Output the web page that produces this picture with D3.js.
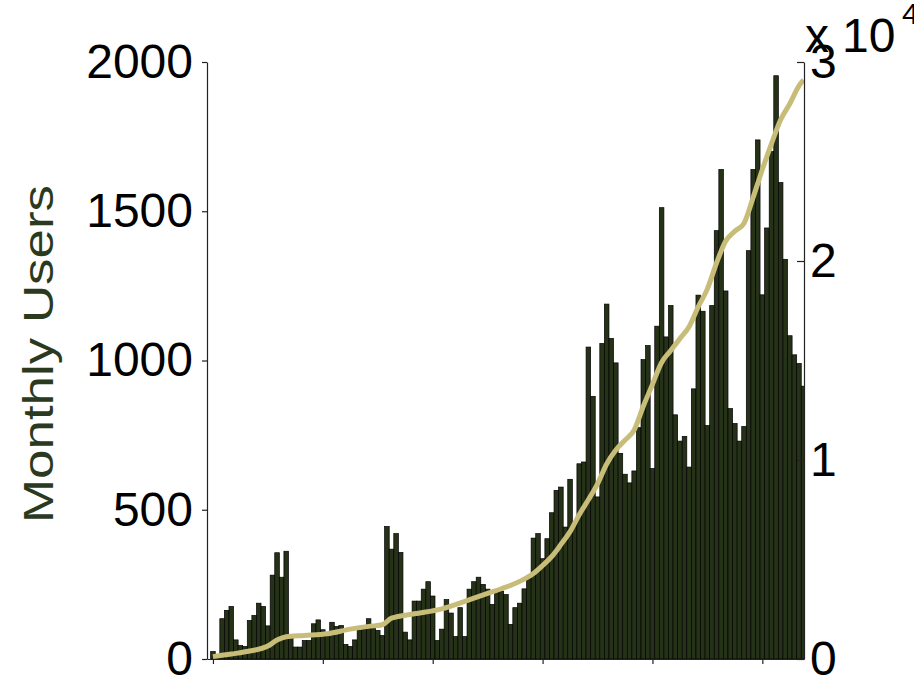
<!DOCTYPE html>
<html>
<head>
<meta charset="utf-8">
<script src="https://cdn.jsdelivr.net/npm/d3@7"></script>
<style>
  html, body { margin: 0; padding: 0; background: #fff; overflow: hidden; }
  svg { display: block; }
  text { font-family: "Liberation Sans", Arial, sans-serif; }
</style>
</head>
<body>
<svg id="chart" width="914" height="676"></svg>
<script>
// ---- data ----
// months (index) for the bars
const months = d3.range(0, 130);
// monthly users per month (bars)
const monthlyUsers = [
  25, 10, 135, 163, 176, 64, 45, 42, 129, 146,
  187, 176, 111, 281, 356, 274, 361, 75, 40, 40,
  62, 62, 118, 131, 98, 85, 123, 109, 112, 49,
  42, 64, 96, 101, 135, 116, 96, 79, 444, 368,
  420, 357, 90, 64, 194, 194, 234, 259, 211, 62,
  100, 199, 154, 75, 172, 75, 234, 259, 274, 250,
  234, 183, 223, 227, 216, 116, 172, 187, 235, 274,
  405, 420, 336, 403, 490, 565, 576, 442, 602, 450,
  654, 660, 1045, 880, 543, 1057, 1189, 1074, 992, 689,
  619, 590, 630, 775, 1003, 1050, 638, 1115, 1512, 1079,
  1184, 818, 730, 746, 643, 905, 1219, 1165, 782, 1184,
  1435, 1640, 1233, 839, 789, 730, 779, 1368, 1640, 1739,
  1220, 1444, 1700, 1954, 1596, 1339, 1083, 1019, 990, 914
];
// total users line (right axis, read at these months)
const totalMonths = [0, 4, 8, 12, 14, 16, 20, 25, 30, 34, 37, 39, 44, 50, 55, 60, 63, 67, 70, 72,
  74, 76, 78, 80, 82, 84, 86, 88, 90, 92, 94, 96, 98, 100, 102, 104, 106, 108, 110, 112,
  114, 116, 118, 120, 122, 124, 126, 128, 129];
const totalUsers = [120, 250, 400, 650, 950, 1120, 1180, 1270, 1500, 1640, 1720, 2050, 2270, 2520, 2900, 3300, 3530, 3900, 4300, 4700,
  5150, 5750, 6400, 7250, 8000, 8800, 9800, 10500, 11000, 11500, 12700, 13800, 14900, 15500, 16100, 16700, 17700, 18600, 19900, 21000,
  21500, 21900, 23200, 24600, 25900, 27100, 27900, 28800, 29100];
// tick values
const leftTicks = [0, 500, 1000, 1500, 2000];
const rightTicks = [0, 1, 2, 3];
const bottomTicks = [0, 24, 48, 72, 96, 120];

// ---- layout ----
const svg = d3.select("#chart");
const L = 207, R = 804, T = 62, B = 659;

const x = d3.scaleLinear().domain([-1.3, 129.1]).range([L, R]);
const y = d3.scaleLinear().domain([0, 2000]).range([B, T]);
const y2 = d3.scaleLinear().domain([0, 3]).range([B, T]);

svg.append("defs").append("clipPath").attr("id", "plotclip")
  .append("rect").attr("x", L).attr("y", 0).attr("width", R - L).attr("height", B + 1);

const plot = svg.append("g").attr("clip-path", "url(#plotclip)");

plot.selectAll("rect.bar")
  .data(months)
  .join("rect")
  .attr("class", "bar")
  .attr("x", m => x(m - 0.5))
  .attr("width", m => x(m + 0.5) - x(m - 0.5))
  .attr("y", (m, i) => y(monthlyUsers[i]))
  .attr("height", (m, i) => y(0) - y(monthlyUsers[i]))
  .attr("fill", "#263218")
  .attr("stroke", "#000")
  .attr("stroke-width", 0.7);

const line = d3.line()
  .x((d, i) => x(totalMonths[i]))
  .y((d, i) => y2(totalUsers[i] / 10000))
  .curve(d3.curveMonotoneX);

plot.append("path")
  .datum(totalUsers)
  .attr("d", line)
  .attr("fill", "none")
  .attr("stroke", "#c8bd78")
  .attr("stroke-width", 5)
  .attr("stroke-linejoin", "round");

// ---- axes ----
function styleAxis(g, fs) {
  g.selectAll("path.domain").attr("stroke", "#222").attr("stroke-width", 1.2);
  g.selectAll(".tick line").attr("stroke", "#222").attr("stroke-width", 1.2);
  g.selectAll(".tick text").attr("font-size", fs).attr("fill", "#000")
    .attr("font-family", "'Liberation Sans', Arial, sans-serif");
}

const gLeft = svg.append("g").attr("transform", `translate(${L},0)`)
  .call(d3.axisLeft(y).tickValues(leftTicks).tickFormat(d3.format("d"))
    .tickSize(5).tickSizeOuter(0).tickPadding(9));
styleAxis(gLeft, 48);

const gBottom = svg.append("g").attr("transform", `translate(0,${B})`)
  .call(d3.axisBottom(x).tickValues(bottomTicks).tickSize(5).tickSizeOuter(0).tickFormat(""));
styleAxis(gBottom, 48);

const gRight = svg.append("g").attr("transform", `translate(${R},0)`)
  .call(d3.axisRight(y2).tickValues(rightTicks).tickFormat(d3.format("d"))
    .tickSize(-7).tickSizeOuter(0).tickPadding(6));
styleAxis(gRight, 48);

// exponent label
svg.append("text").attr("x", 805).attr("y", 52).attr("font-size", 48).attr("fill", "#000").text("x");
svg.append("text").attr("x", 842).attr("y", 52).attr("font-size", 48).attr("fill", "#000").text("10");
svg.append("text").attr("x", 902).attr("y", 24).attr("font-size", 30).attr("fill", "#000").text("4");

// y label
svg.append("text")
  .attr("transform", "translate(53,354) rotate(-90)")
  .attr("text-anchor", "middle")
  .attr("font-size", 42)
  .attr("fill", "#2b3a1e")
  .attr("textLength", 338)
  .attr("lengthAdjust", "spacingAndGlyphs")
  .text("Monthly Users");
</script>
</body>
</html>
